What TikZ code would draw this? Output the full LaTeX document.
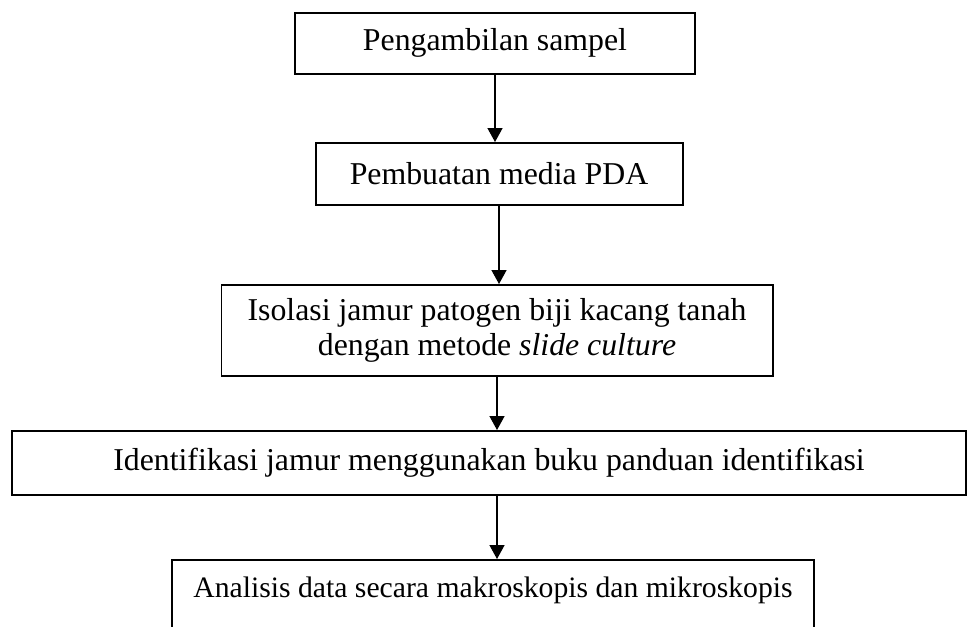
\documentclass[tikz,border=0pt]{standalone}
\usepackage{fontspec}
\setmainfont{Liberation Serif}
\usetikzlibrary{positioning,arrows.meta}
\newdimen\pxu
\pxu=0.3774pt

\tikzset{
  procbox/.style={draw, line width=0.75pt, align=center, inner sep=0pt,
    font=\fontsize{12}{13.2}\selectfont},
  flowarrow/.style={-{Triangle[length=5.2pt,width=5.6pt]}, line width=0.45pt}
}

\begin{document}
\begin{tikzpicture}[x=\pxu, y=-\pxu]
        % Frame
        \clip (0,0) rectangle (968,627);
        
        % Steps
        \node[procbox, minimum width=400\pxu, minimum height=61.5\pxu] (sampel) at (495,43.3) {Pengambilan sampel};
        \node[procbox, minimum width=367\pxu, minimum height=62\pxu] (media) at (499,174) {Pembuatan media PDA};
        \node[procbox, minimum width=551\pxu, minimum height=91\pxu] (isolasi) at (497,330.5) {Isolasi jamur patogen biji kacang tanah\\dengan metode \textit{slide culture}};
        \node[procbox, minimum width=954\pxu, minimum height=64\pxu] (ident) at (489,463) {Identifikasi jamur menggunakan buku panduan identifikasi};
        \node[draw, line width=0.75pt, inner sep=0pt, font=\fontsize{11.2}{13}\selectfont,
          minimum width=642\pxu, minimum height=100\pxu, text depth=17.2pt] (analisis) at (493,610) {Analisis data secara makroskopis dan mikroskopis};
        
        % Arrows
        \draw[flowarrow] (sampel.south) -- (sampel.south |- media.north);
        \draw[flowarrow] (media.south) -- (media.south |- isolasi.north);
        \draw[flowarrow] (isolasi.south) -- (isolasi.south |- ident.north);
        \draw[flowarrow] (isolasi.south |- ident.south) -- (isolasi.south |- analisis.north);
    \end{tikzpicture}
\end{document}
